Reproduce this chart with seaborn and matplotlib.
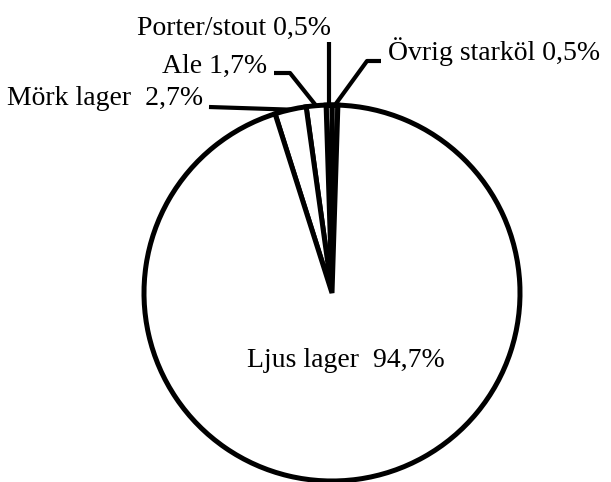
import numpy as np
import matplotlib
matplotlib.use("Agg")
import matplotlib.pyplot as plt
import seaborn as sns

categories = ["Övrig starköl", "Porter/stout", "Ale", "Mörk lager", "Ljus lager"]
shares = [0.5, 0.5, 1.7, 2.7, 94.7]
label_texts = ["Övrig starköl 0,5%", "Porter/stout 0,5%", "Ale 1,7%",
               "Mörk lager  2,7%", "Ljus lager  94,7%"]

sns.set_style("white")
plt.rcParams['font.family'] = ['Liberation Serif', 'DejaVu Serif']
plt.rcParams['text.color'] = 'black'

W, H = 611, 482
CX, CY, R = 332, 293, 188  # pie centre and radius in pixels


def px(x, y):
    # pixel position (top-left origin) -> data coords
    return (x - CX) / R, (CY - y) / R


fig = plt.figure(figsize=(W / 100, H / 100), dpi=100)
ax = fig.add_axes([0, 0, 1, 1])

start = 90 - 360 * shares[0] / sum(shares)
wedges, _ = ax.pie(shares, startangle=start, counterclock=True,
                   colors=["white"] * len(shares),
                   wedgeprops=dict(edgecolor="black", linewidth=3.6))
for w in wedges:
    w.set_clip_on(False)

ax.set_xlim(-CX / R, (W - CX) / R)
ax.set_ylim(-(H - CY) / R, CY / R)
ax.set_aspect("equal")
ax.axis("off")


def edge(i):
    w = wedges[i]
    a = np.deg2rad((w.theta1 + w.theta2) / 2)
    return np.cos(a), np.sin(a)


lw = 3.0
fs = 20
# Övrig starköl: diagonal then horizontal to the right
e = edge(0)
pts = [e, px(367, 61), px(381, 61)]
ax.plot(*zip(*pts), color="black", lw=lw, solid_capstyle="butt", clip_on=False)
ax.text(*px(388, 60), label_texts[0], fontsize=fs, ha="left", va="baseline")

# Porter/stout: vertical line
e = edge(1)
pts = [e, (e[0], px(0, 42)[1])]
ax.plot(*zip(*pts), color="black", lw=lw, solid_capstyle="butt")
ax.text(*px(331, 35), label_texts[1], fontsize=fs, ha="right", va="baseline")

# Ale: horizontal then diagonal
e = edge(2)
pts = [px(274, 73), px(290, 73), e]
ax.plot(*zip(*pts), color="black", lw=lw, solid_capstyle="butt")
ax.text(*px(267, 73), label_texts[2], fontsize=fs, ha="right", va="baseline")

# Mörk lager: straight line
e = edge(3)
pts = [px(209, 107), e]
ax.plot(*zip(*pts), color="black", lw=lw, solid_capstyle="butt")
ax.text(*px(203, 105), label_texts[3], fontsize=fs, ha="right", va="baseline")

# Ljus lager inside the pie
ax.text(*px(346, 367), label_texts[4], fontsize=fs, ha="center", va="baseline")

fig.savefig("out.png", dpi=100, facecolor="white")
